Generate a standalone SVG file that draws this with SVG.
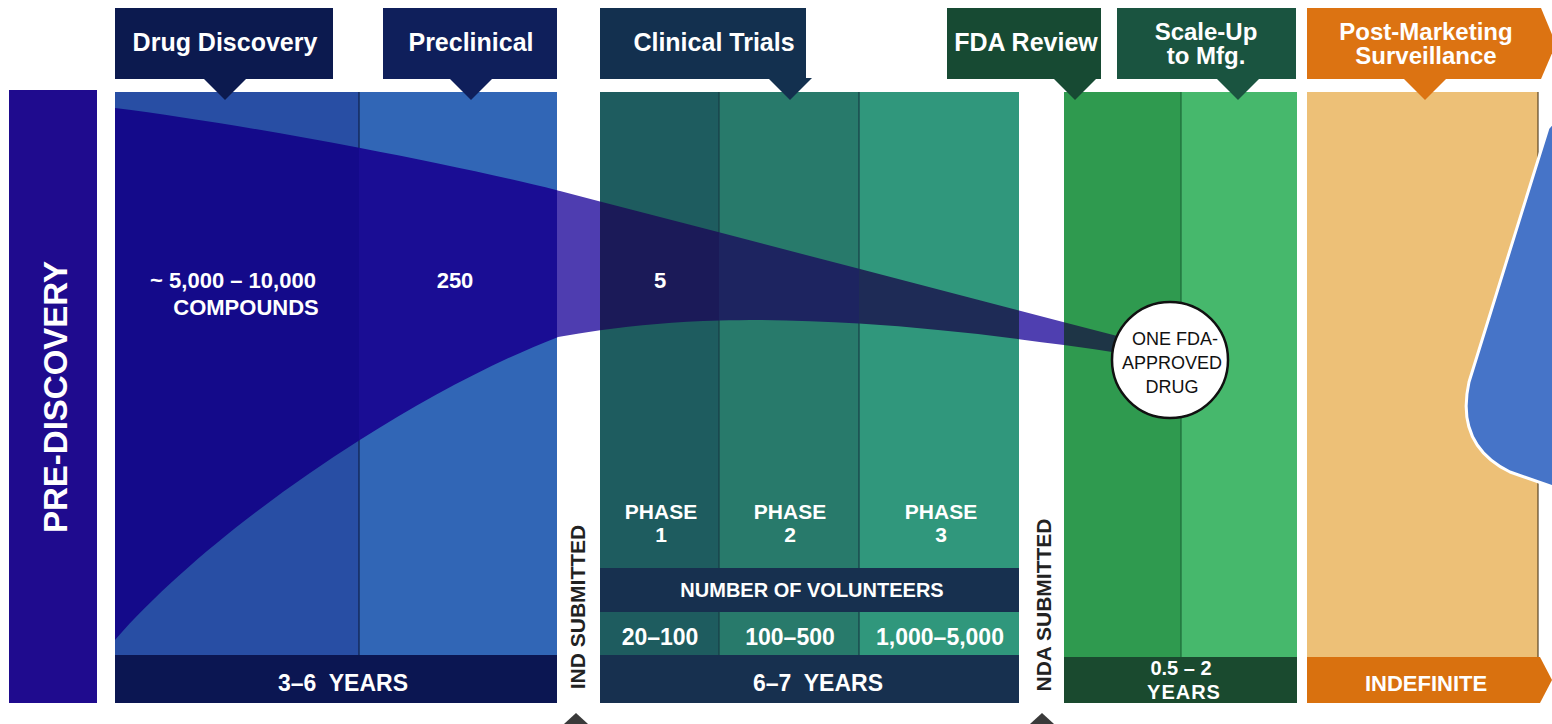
<svg xmlns="http://www.w3.org/2000/svg" xmlns:xlink="http://www.w3.org/1999/xlink" width="1552" height="724" viewBox="0 0 1552 724">
<style>
  .t{font-family:"Liberation Sans",Arial,sans-serif;font-weight:bold;fill:#ffffff;text-anchor:middle}
  .h{font-size:25px}
  .h2{font-size:24px}
  .y{font-size:23px}
  .m{font-size:22px}
  .p{font-size:23px}
  .ph{font-size:21px}
  .v{font-family:"Liberation Sans",Arial,sans-serif;font-size:21px;font-weight:bold;fill:#222222;text-anchor:middle}
  .c{font-family:"Liberation Sans",Arial,sans-serif;font-size:18px;fill:#111111;text-anchor:middle}
  .div{stroke:#10204a;stroke-width:1.2}
</style>
<defs>
  <path id="funnel" d="M115,108 C250,125 450,163 560,191 L1125,338 L1125,354 C1000,335 880,321 760,320 C680,320 620,326 558,337 C420,390 220,520 115,640 Z"/>
  <clipPath id="cA"><rect x="115" y="92" width="244" height="563"/></clipPath>
  <clipPath id="cB"><rect x="359" y="92" width="198" height="563"/></clipPath>
  <clipPath id="cC"><rect x="557" y="92" width="43" height="563"/></clipPath>
  <clipPath id="cD"><rect x="600" y="92" width="119" height="470"/></clipPath>
  <clipPath id="cE"><rect x="719" y="92" width="140" height="470"/></clipPath>
  <clipPath id="cF"><rect x="859" y="92" width="160" height="470"/></clipPath>
  <clipPath id="cG"><rect x="1019" y="92" width="45" height="563"/></clipPath>
  <clipPath id="cH"><rect x="1064" y="92" width="117" height="563"/></clipPath>
</defs>
<rect width="1552" height="724" fill="#ffffff"/>

<g id="pre-discovery">
  <rect x="9" y="90" width="88" height="613" fill="#1f0b8e"/>
  <text class="t" font-size="33" transform="translate(67,397) rotate(-90)">PRE-DISCOVERY</text>
</g>

<g id="drug-discovery">
  <rect x="115" y="92" width="244" height="563" fill="#284ea4"/>
  <rect x="359" y="92" width="198" height="563" fill="#3166b6"/>
  <rect x="115" y="655" width="442" height="48" fill="#0b1652"/>
  <line class="div" x1="359" y1="92" x2="359" y2="655"/>
  <text class="t y" x="343" y="691" xml:space="preserve">3–6  YEARS</text>
</g>

<g id="clinical-panel">
  <rect x="600" y="92" width="119" height="563" fill="#1e5c5f"/>
  <rect x="719" y="92" width="140" height="563" fill="#287a6b"/>
  <rect x="859" y="92" width="160" height="563" fill="#30977c"/>
  <line x1="719" y1="92" x2="719" y2="568" stroke="#163d45" stroke-width="1.2"/>
  <line x1="859" y1="92" x2="859" y2="568" stroke="#163d45" stroke-width="1.2"/>
  <line x1="719" y1="612" x2="719" y2="655" stroke="#163d45" stroke-width="1.2"/>
  <line x1="859" y1="612" x2="859" y2="655" stroke="#163d45" stroke-width="1.2"/>
  <rect x="600" y="568" width="419" height="44" fill="#17304f"/>
  <rect x="600" y="655" width="419" height="48" fill="#17304f"/>
</g>

<g id="green-panel">
  <rect x="1064" y="92" width="117" height="565" fill="#2f9a4f"/>
  <rect x="1181" y="92" width="116" height="565" fill="#46b86c"/>
  <line x1="1181" y1="92" x2="1181" y2="657" stroke="#1d6a3a" stroke-width="1.2"/>
  <rect x="1064" y="657" width="233" height="46" fill="#1a4a2f"/>
  <text class="t" font-size="20" x="1181" y="675" xml:space="preserve">0.5 – 2</text>
  <text class="t" font-size="20" x="1184" y="699" letter-spacing="1">YEARS</text>
</g>

<g id="post-marketing-panel">
  <rect x="1307" y="92" width="231" height="565" fill="#edc077"/>
  <line x1="1538" y1="92" x2="1538" y2="657" stroke="#5a4424" stroke-width="1.2"/>
  <polygon points="1307,657 1540,657 1552,680 1540,703 1307,703" fill="#d9710f"/>
  <text class="t" font-size="22" x="1426" y="691">INDEFINITE</text>
</g>

<g id="connectors">
  <use xlink:href="#funnel" clip-path="url(#cA)" fill="#140a8a"/>
  <use xlink:href="#funnel" clip-path="url(#cB)" fill="#1a0d94"/>
  <use xlink:href="#funnel" clip-path="url(#cC)" fill="#4e3db0"/>
  <use xlink:href="#funnel" clip-path="url(#cD)" fill="#1b1a58"/>
  <use xlink:href="#funnel" clip-path="url(#cE)" fill="#1d2460"/>
  <use xlink:href="#funnel" clip-path="url(#cF)" fill="#1e2b56"/>
  <use xlink:href="#funnel" clip-path="url(#cG)" fill="#4f3fb0"/>
  <use xlink:href="#funnel" clip-path="url(#cH)" fill="#1e3546"/>
</g>

<g id="counts">
  <text class="t m" x="233" y="288" xml:space="preserve">~ 5,000 – 10,000</text>
  <text class="t m" x="246" y="315">COMPOUNDS</text>
  <text class="t m" x="455" y="288">250</text>
  <text class="t m" x="660" y="288">5</text>
</g>

<g id="phases">
  <text class="t ph" x="661" y="519">PHASE</text>
  <text class="t ph" x="661" y="542">1</text>
  <text class="t ph" x="790" y="519">PHASE</text>
  <text class="t ph" x="790" y="542">2</text>
  <text class="t ph" x="941" y="519">PHASE</text>
  <text class="t ph" x="941" y="542">3</text>
  <text class="t" font-size="20" x="812" y="597">NUMBER OF VOLUNTEERS</text>
  <text class="t p" x="660" y="645">20–100</text>
  <text class="t p" x="790" y="645">100–500</text>
  <text class="t p" x="940" y="645">1,000–5,000</text>
  <text class="t y" x="818" y="691" xml:space="preserve">6–7  YEARS</text>
</g>

<g id="approved-drug">
  <circle cx="1170" cy="360" r="58" fill="#ffffff" stroke="#111111" stroke-width="2.5"/>
  <text class="c" x="1175" y="345">ONE FDA-</text>
  <text class="c" x="1172" y="369">APPROVED</text>
  <text class="c" x="1172" y="393">DRUG</text>
</g>

<g id="ind-submitted">
  <text class="v" transform="translate(585,607) rotate(-90)">IND SUBMITTED</text>
  <polygon points="564,724 576,713 588,724" fill="#3a3a3a"/>
</g>

<g id="nda-submitted">
  <text class="v" transform="translate(1051,605) rotate(-90)">NDA SUBMITTED</text>
  <polygon points="1030,724 1042,713 1054,724" fill="#3a3a3a"/>
</g>

<g id="hdr-drug-discovery">
  <rect x="115" y="8" width="218" height="71" fill="#0c1a4f"/>
  <polygon points="203,78 247,78 225,100" fill="#0c1a4f"/>
  <text class="t h" x="225" y="51">Drug Discovery</text>
</g>
<g id="hdr-preclinical">
  <rect x="383" y="8" width="174" height="71" fill="#0f1f5b"/>
  <polygon points="449,78 493,78 471,100" fill="#0f1f5b"/>
  <text class="t h" x="471" y="51">Preclinical</text>
</g>
<g id="hdr-clinical">
  <rect x="600" y="8" width="206" height="71" fill="#13304f"/>
  <polygon points="768,78 812,78 790,100" fill="#13304f"/>
  <text class="t h" x="714" y="51">Clinical Trials</text>
</g>
<g id="hdr-fda-review">
  <rect x="947" y="8" width="154" height="71" fill="#174a33"/>
  <polygon points="1053,78 1097,78 1075,100" fill="#174a33"/>
  <text class="t h" x="1026" y="51">FDA Review</text>
</g>
<g id="hdr-scale-up">
  <rect x="1117" y="8" width="179" height="71" fill="#1a5440"/>
  <polygon points="1216,78 1260,78 1238,100" fill="#1a5440"/>
  <text class="t h2" x="1206" y="40">Scale-Up</text>
  <text class="t h2" x="1206" y="64">to Mfg.</text>
</g>
<g id="hdr-post-marketing">
  <polygon points="1307,8 1541,8 1556,44 1541,79 1307,79" fill="#dc7312"/>
  <polygon points="1403,78 1447,78 1425,100" fill="#dc7312"/>
  <text class="t h2" x="1426" y="40">Post-Marketing</text>
  <text class="t h2" x="1426" y="64">Surveillance</text>
</g>

<g id="callout">
  <path d="M1562,112 L1548,128 L1469,382 Q1455,445 1510,472 L1562,490 Z" fill="#4674c8" stroke="#ffffff" stroke-width="3" stroke-linejoin="round"/>
</g>
</svg>
